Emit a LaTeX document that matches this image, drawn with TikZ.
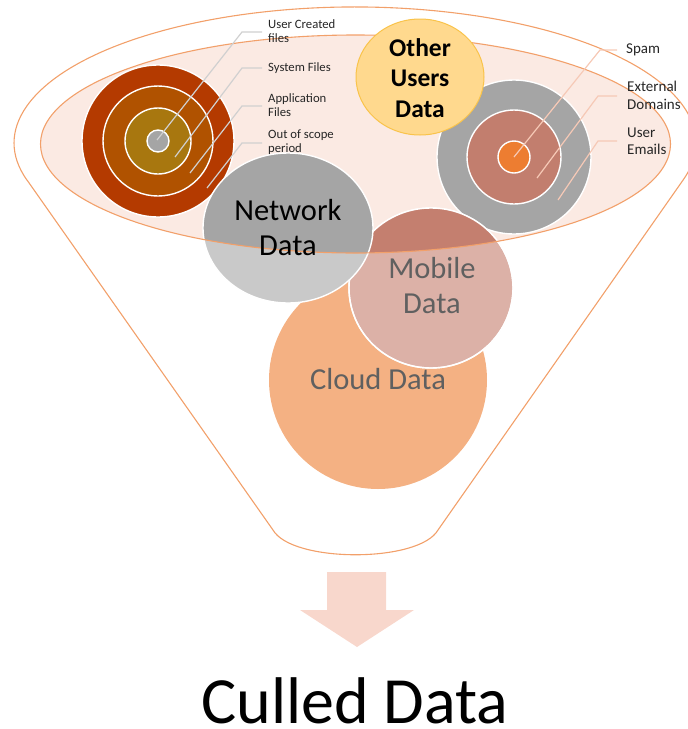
\documentclass[tikz,border=0pt]{standalone}
\usepackage{fontspec}
\setmainfont{Carlito}
\definecolor{funnelline}{HTML}{F2A06A}
\definecolor{mouthfill}{HTML}{FBEAE3}
\definecolor{ringA}{HTML}{B43A00}
\definecolor{ringB}{HTML}{B05200}
\definecolor{ringC}{HTML}{A8770F}
\definecolor{coregray}{HTML}{A5A5A5}
\definecolor{mailbrown}{HTML}{C27E6E}
\definecolor{spamorange}{HTML}{ED7D31}
\definecolor{netdark}{HTML}{A5A5A5}
\definecolor{netlight}{HTML}{C9C9C9}
\definecolor{mobdark}{HTML}{C47F6F}
\definecolor{moblight}{HTML}{DCB1A7}
\definecolor{cloudfill}{HTML}{F4B183}
\definecolor{otherfill}{HTML}{FFD98E}
\definecolor{otherline}{HTML}{F9C34A}
\definecolor{softtext}{HTML}{606060}
\definecolor{graylead}{HTML}{D0D0D0}
\definecolor{peachlead}{HTML}{F6C9B6}
\definecolor{arrowfill}{HTML}{F8D7CC}
\begin{document}
\begin{tikzpicture}[x=1pt,y=-1pt,
  funnelstroke/.style={draw=funnelline,line width=1.1pt},
  ringedge/.style={draw=white,line width=1.4pt},
  leadgray/.style={draw=graylead,line width=1.2pt},
  leadpeach/.style={draw=peachlead,line width=1.2pt},
  smalllabel/.style={anchor=west,inner sep=0pt,align=left,font=\fontsize{12.7}{14}\selectfont,text=black!85},
  sidelabel/.style={anchor=west,inner sep=0pt,align=left,font=\fontsize{15}{17.5}\selectfont,text=black!85},
  biglabel/.style={inner sep=0pt,align=center,font=\fontsize{30.5}{35}\selectfont}]
\useasboundingbox (0,0) rectangle (688,729);

% funnel outline: rim ellipse, tapering sides and rounded spout
\draw[funnelstroke] (27,180) -- (273,530)
  .. controls (292,563) and (419,563) .. (438,530)
  -- (683.1,180) arc[start angle=15.8, end angle=-195.8, x radius=341, y radius=136];

% funnel mouth
\fill[mouthfill] (355.5,144) ellipse [x radius=315, y radius=109];

% left target: file categories
\fill[ringA,ringedge] (158,141) circle [radius=76];
\fill[ringB,ringedge] (158,141) circle [radius=55];
\fill[ringC,ringedge] (158,141) circle [radius=33];
\fill[coregray,ringedge] (158,141) circle [radius=11];

% right target: email categories
\fill[coregray,ringedge] (514,157) circle [radius=77];
\fill[mailbrown,ringedge] (514,157) circle [radius=47];
\fill[spamorange,ringedge] (514,157) circle [radius=16];

% cloud, mobile and network data sources
\fill[cloudfill] (378,380) circle [radius=109];
\filldraw[fill=moblight,draw=white,line width=1.4pt] (431,288) ellipse [x radius=82, y radius=80];
\begin{scope}
  \clip (355.5,144) ellipse [x radius=315, y radius=109];
  \fill[mobdark] (431,288) ellipse [x radius=82, y radius=80];
\end{scope}
\draw[white,line width=1.4pt] (431,288) ellipse [x radius=82, y radius=80];
\fill[netlight] (288,228) ellipse [x radius=85, y radius=75];
\begin{scope}
  \clip (355.5,144) ellipse [x radius=315, y radius=109];
  \fill[netdark] (288,228) ellipse [x radius=85, y radius=75];
\end{scope}
\draw[white,line width=1.4pt] (288,228) ellipse [x radius=85, y radius=75];

% mouth outline over the sources
\draw[funnelstroke] (355.5,144) ellipse [x radius=315, y radius=109];

% other users bubble
\filldraw[fill=otherfill,draw=otherline,line width=1pt] (420,77) ellipse [x radius=64, y radius=58];

% leader lines, left target
\coordinate (ucS) at (157,140);  \coordinate (ucB) at (242,32);  \coordinate (ucE) at (262,32);
\coordinate (sfS) at (175,157);  \coordinate (sfB) at (242,68);  \coordinate (sfE) at (262,68);
\coordinate (afS) at (190,173);  \coordinate (afB) at (242,106); \coordinate (afE) at (262,106);
\coordinate (osS) at (207,188);  \coordinate (osB) at (242,143); \coordinate (osE) at (262,143);
\draw[leadgray] (ucS) -- (ucB) -- (ucE);
\draw[leadgray] (sfS) -- (sfB) -- (sfE);
\draw[leadgray] (afS) -- (afB) -- (afE);
\draw[leadgray] (osS) -- (osB) -- (osE);

% leader lines, right target
\coordinate (spS) at (514,157); \coordinate (spB) at (600,50);  \coordinate (spE) at (617,50);
\coordinate (edS) at (537,178); \coordinate (edB) at (598,96);  \coordinate (edE) at (617,96);
\coordinate (ueS) at (558,200); \coordinate (ueB) at (598,141); \coordinate (ueE) at (617,141);
\draw[leadpeach] (spS) -- (spB) -- (spE);
\draw[leadpeach] (edS) -- (edB) -- (edE);
\draw[leadpeach] (ueS) -- (ueB) -- (ueE);

% labels
\node[smalllabel] (lblUC) at (268,31) {User Created\\files};
\node[smalllabel] (lblSF) at (268,68) {System Files};
\node[smalllabel] (lblAF) at (268,105) {Application\\Files};
\node[smalllabel] (lblOS) at (268,142.5) {Out of scope\\period};
\node[sidelabel] (lblSP) at (626,50) {Spam};
\node[sidelabel] (lblED) at (627,95.5) {External\\Domains};
\node[sidelabel] (lblUE) at (627,141) {User\\Emails};

\node[biglabel,text=black] (net) at (288,228) {Network\\Data};
\node[biglabel,text=softtext] (mob) at (432,286) {Mobile\\Data};
\node[biglabel,text=softtext] (cloud) at (378,379) {Cloud Data};
\node[inner sep=0pt,align=center,font=\fontsize{25.5}{30.5}\bfseries\selectfont] (other) at (420,78) {Other\\Users\\Data};

% output arrow and result
\fill[arrowfill] (327,572) -- (386,572) -- (386,610) -- (414,610) -- (357,647) -- (300,610) -- (327,610) -- cycle;
\node[inner sep=0pt,font=\fontsize{66}{70}\selectfont] (culled) at (355,701) {Culled Data};
\end{tikzpicture}
\end{document}
